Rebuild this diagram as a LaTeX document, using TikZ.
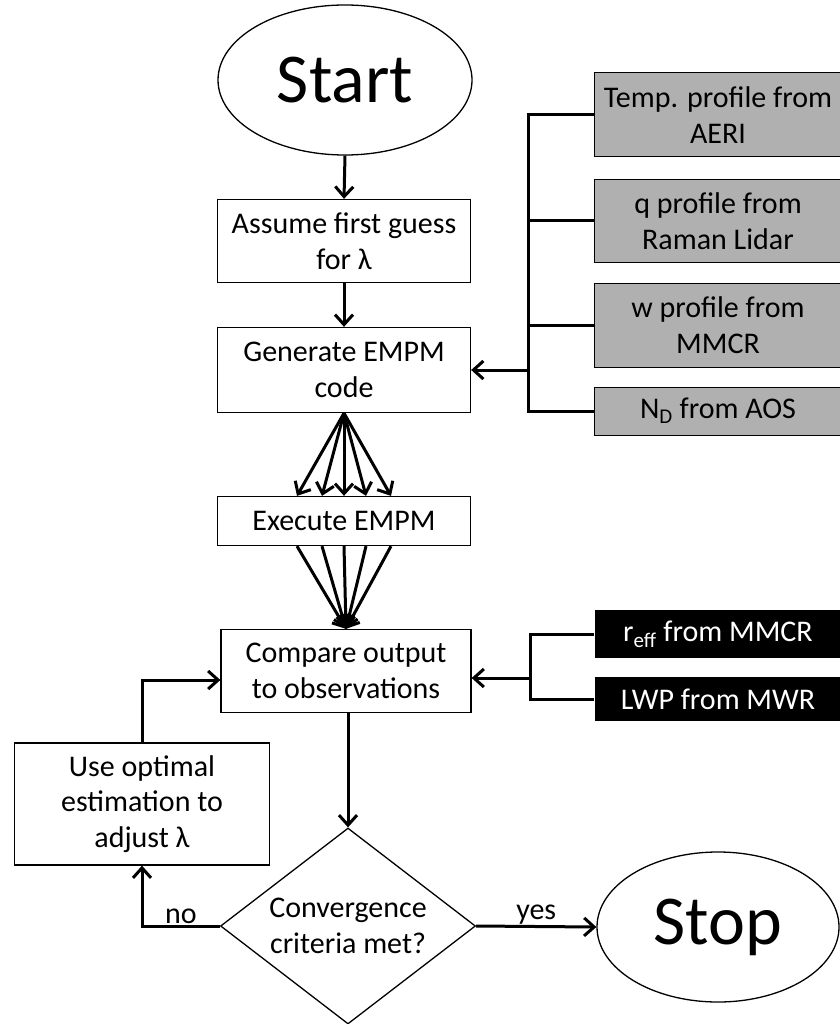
\documentclass[tikz,border=0pt]{standalone}
\usepackage{fontspec}
\setmainfont{Carlito}
\usetikzlibrary{shapes.geometric,arrows.meta}
\definecolor{boxgray}{RGB}{176,176,176}
\begin{document}
\begin{tikzpicture}[x=1pt,y=-1pt,
  txt/.style={font=\fontsize{30}{35.5}\selectfont, align=center},
  big/.style={font=\fontsize{70}{80}\selectfont},
  procbox/.style={txt, draw, line width=1.3pt, rectangle, inner sep=0pt},
  graybox/.style={txt, draw, line width=1pt, fill=boxgray, inner sep=0pt, minimum width=247pt},
  blackbox/.style={txt, fill=black, text=white, inner sep=0pt, minimum width=247pt},
  oval/.style={big, draw, line width=1.3pt, ellipse, inner sep=0pt},
  conn/.style={line width=3pt},
  arr/.style={conn, -{Straight Barb[length=10pt,width=18pt]}},
  lbl/.style={txt, inner sep=1pt}
]
\useasboundingbox (0,0) rectangle (839,1024);

% main column
\node[oval, minimum width=254pt, minimum height=150pt] (start) at (345,80) {Start};
\node[procbox, minimum width=253pt, minimum height=83pt] (assume) at (344,241) {Assume first guess\\for λ};
\node[procbox, minimum width=253pt, minimum height=85pt] (generate) at (344,370) {Generate EMPM\\code};
\node[procbox, minimum width=253pt, minimum height=49pt] (execute) at (344,521) {Execute EMPM};
\node[procbox, minimum width=250pt, minimum height=83pt] (compare) at (346,671) {Compare output\\to observations};
\node[txt, draw, line width=1.3pt, diamond, inner sep=0pt, aspect=1.3, minimum width=255pt, minimum height=196pt] (conv) at (348,926) {Convergence\\criteria met?};
\node[oval, minimum width=242pt, minimum height=150pt] (stop) at (718,927) {Stop};
\node[procbox, minimum width=255pt, minimum height=122pt] (use) at (142,804) {Use optimal\\estimation to\\adjust λ};

% input boxes (gray)
\node[graybox, minimum height=84pt] (temp) at (718,115) {Temp. profile from\\AERI};
\node[graybox, minimum height=83pt] (q) at (718,221) {q profile from\\Raman Lidar};
\node[graybox, minimum height=84pt] (w) at (718,325) {w profile from\\MMCR};
\node[graybox, minimum height=48pt] (nd) at (718,411) {N\textsubscript{D} from AOS};

% observation boxes (black)
\node[blackbox, minimum height=48pt] (reff) at (718,634) {r\textsubscript{eff} from MMCR};
\node[blackbox, minimum height=44pt] (lwp) at (718,699) {LWP from MWR};

% main flow
\draw[arr] (start.south) -- (assume.north);
\draw[arr] (assume.south) -- (generate.north);
\foreach \dx in {-47,-22,0,22,47}{
  \draw[arr] (generate.south) -- ([xshift=\dx pt]execute.north);
  \draw[arr] ([xshift=\dx pt]execute.south) -- (compare.north);
}
\draw[arr] (compare.south -| conv.north) -- (conv.north);
\draw[arr] (conv.east) -- node[lbl, above] (yes) {yes} (stop.west);
\draw[arr] (conv.west) -| node[lbl, above, pos=0.25] (no) {no} (use.south);
\coordinate (cin) at ([yshift=-9pt]compare.west);
\draw[arr] (use.north) |- (cin);

% gray input bus
\coordinate (gbus) at (528,370);
\draw[conn] (temp.west) -- (temp.west -| gbus) -- (nd.west -| gbus) -- (nd.west);
\draw[conn] (q.west) -- (q.west -| gbus);
\draw[conn] (w.west) -- (w.west -| gbus);
\draw[arr] (gbus) -- (generate.east);

% black observation bus
\coordinate (bbus) at (530,678);
\draw[conn] (reff.west) -- (reff.west -| bbus) -- (lwp.west -| bbus) -- (lwp.west);
\draw[arr] (bbus) -- (bbus -| compare.east);
\end{tikzpicture}
\end{document}
